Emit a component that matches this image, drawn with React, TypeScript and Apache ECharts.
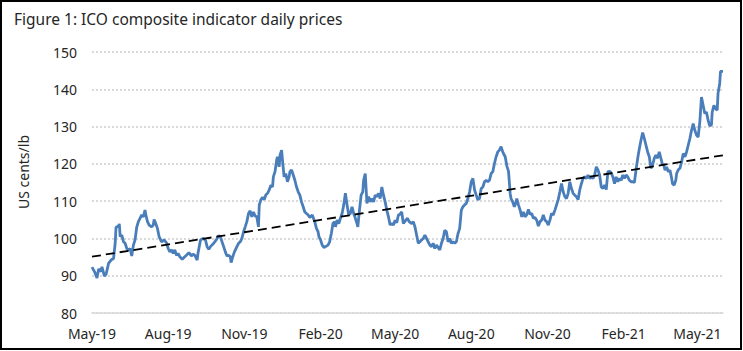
import React, { useEffect, useRef } from "react";
import * as echarts from "echarts";

// Day offsets from 1 May 2019 and ICO composite indicator price (US cents/lb)
const days = [
  0, 3, 6, 8, 11, 12, 15, 17, 20, 23, 26, 28, 29, 32, 33, 34, 36, 38, 40, 42, 44, 46, 48, 50, 52, 54, 56, 58, 60, 62,
  64, 65, 67, 69, 72, 74, 75, 77, 79, 81, 84, 87, 90, 92, 94, 96, 98, 100, 102, 104, 106, 109, 112, 114, 117, 120, 122, 124, 127, 128,
  131, 134, 137, 139, 141, 143, 147, 150, 153, 155, 157, 159, 161, 163, 165, 167, 168, 170, 172, 175, 177, 179, 181, 183, 185, 187, 189, 191, 193, 195,
  197, 199, 201, 202, 204, 206, 208, 210, 212, 214, 216, 218, 219, 221, 223, 224, 226, 227, 229, 230, 232, 234, 236, 238, 239, 241, 243, 245, 247, 249,
  251, 253, 255, 257, 261, 263, 266, 269, 271, 273, 274, 276, 278, 280, 282, 285, 287, 289, 291, 293, 294, 296, 298, 300, 302, 304, 306, 308, 310, 312,
  314, 316, 318, 320, 321, 323, 325, 327, 328, 330, 331, 332, 334, 336, 338, 340, 342, 344, 346, 348, 350, 352, 354, 356, 358, 360, 362, 364, 366, 368,
  370, 372, 374, 376, 379, 381, 383, 386, 388, 390, 392, 394, 396, 398, 400, 402, 404, 406, 408, 410, 412, 414, 416, 418, 420, 422, 424, 426, 428, 430,
  432, 434, 436, 438, 440, 442, 444, 446, 448, 450, 452, 454, 456, 458, 460, 462, 464, 466, 468, 470, 472, 474, 476, 478, 480, 482, 484, 486, 488, 490,
  492, 494, 496, 498, 499, 501, 503, 505, 506, 508, 510, 511, 513, 515, 517, 519, 521, 523, 525, 527, 529, 531, 533, 535, 537, 539, 541, 543, 545, 547,
  549, 551, 553, 555, 557, 559, 561, 563, 565, 567, 569, 571, 573, 575, 577, 579, 581, 583, 585, 587, 589, 591, 593, 595, 597, 599, 601, 603, 605, 607,
  609, 611, 613, 615, 617, 619, 621, 623, 625, 627, 629, 631, 633, 635, 637, 639, 641, 643, 645, 647, 649, 651, 653, 655, 657, 659, 661, 663, 665, 667,
  669, 671, 673, 675, 677, 679, 681, 683, 685, 687, 689, 690, 692, 694, 696, 698, 700, 701, 703, 705, 706, 708, 710, 712, 714, 716, 718, 720, 722, 724,
  726, 728, 730, 732, 734, 736, 738, 740, 742, 744, 746, 748, 749, 751, 753, 755, 756, 758, 759, 762,
];

const prices = [
  92.3, 91.1, 89.4, 91.8, 91.1, 92.4, 89.9, 90.4, 93.3, 94.2, 94.6, 98.7, 103, 103.3, 103.9, 100.5, 100.9, 99.1, 98.7, 97.3, 96.9, 97.3, 95.3, 98.2, 99.6, 103, 104.5, 105.4, 106.3, 105.8,
  107.6, 106.3, 104.5, 103.6, 103.1, 103.6, 105.1, 104, 102.7, 100.5, 99.1, 99.6, 98.8, 97.3, 96.4, 96.9, 96, 96.9, 95.5, 96, 95.1, 94.4, 95.1, 95.5, 96.2, 95.3, 95.8, 95.5, 94.2, 96,
  99.6, 100, 99.6, 97.8, 97.1, 97.8, 98.7, 99.6, 100.7, 100.5, 99.1, 97.8, 96.4, 95.3, 95.5, 95.1, 93.5, 95.1, 96.4, 97.8, 98.7, 99.1, 100, 101.8, 103.1, 104.5, 106.7, 107.4, 105.8, 107.1,
  106, 105.8, 103.1, 109, 110.4, 111, 110.4, 111.7, 112.1, 113, 114.3, 113.8, 116.5, 117.9, 121, 121.9, 119.2, 122.3, 123.7, 121, 116.5, 117.4, 115.2, 116.5, 117.9, 118.4, 117, 115.6, 113.8, 112.5,
  111.6, 109.8, 108.5, 107.1, 106.3, 105.6, 106.3, 104.5, 102.7, 101.8, 100.5, 99.6, 98.2, 97.6, 97.8, 98.2, 99.1, 101.3, 104, 104.5, 103.1, 104.9, 104, 105.4, 106.7, 109, 112.1, 109, 106.3, 106.7,
  108.5, 106.7, 105.4, 104, 103.1, 107.6, 111.6, 112.5, 115.6, 117.4, 113.4, 109.4, 111.2, 109.8, 110.7, 109.8, 111.6, 111.2, 112.1, 110.7, 113.8, 111.6, 109.8, 107.6, 105.8, 103.6, 104, 103.6, 104.9, 104.2,
  106.3, 106.5, 107.1, 104, 104.9, 105.4, 104.5, 104, 104.5, 103.1, 100.9, 98.7, 99.1, 99.6, 100, 100.9, 100, 99.1, 98.2, 97.8, 98.7, 97.3, 98.2, 97.6, 96.9, 98.7, 100, 102.2, 101.8, 99.1,
  100, 98.7, 99.1, 98.7, 99.1, 101.3, 102.7, 107.6, 108.5, 109, 109.4, 110.7, 112.5, 115.2, 116.1, 113, 111.6, 110.4, 110.7, 113.4, 113.8, 115.2, 115.6, 115.2, 115.6, 117.4, 117.9, 120.1, 121.9, 123.2,
  123.7, 124.6, 123.2, 122.3, 121.9, 119.4, 118, 112, 110.7, 109.8, 108.5, 109, 110.7, 109, 107.6, 105.8, 107.1, 105.8, 106.3, 107.8, 106.5, 106.7, 105.4, 105.6, 104.9, 103.3, 104.5, 104.9, 106.3, 104.9,
  104.5, 103.6, 104.9, 106.7, 106.3, 107.6, 109, 110.4, 112.5, 114.7, 112.5, 111.2, 110.7, 112.1, 115.2, 113.4, 112.1, 111.6, 111.2, 110.4, 113, 114.7, 116.1, 116.5, 116.1, 117, 116.1, 116.5, 116.1, 117,
  119.2, 118.4, 117, 113.8, 113.4, 114.3, 113.1, 117.9, 118, 117.6, 116.5, 114.7, 116.5, 115.2, 116.1, 115.6, 117, 116.1, 117, 116.5, 115.6, 115.2, 115.2, 115, 118.4, 121.5, 124.1, 126.4, 128.4, 126.8,
  125, 123.2, 121.9, 118.8, 119.7, 121.5, 122.3, 121.5, 123.2, 121.5, 119.7, 120.1, 118.3, 119.2, 117.9, 118.3, 116.1, 114.7, 114.3, 115.6, 117.4, 118.4, 118.8, 120.5, 122.8, 121.9, 123.2, 125, 126.8, 129,
  130.8, 129, 127.7, 127.2, 131.2, 137.9, 135.7, 133.5, 133.9, 131.7, 130.2, 130.4, 133.9, 135.7, 134.8, 134.4, 138.9, 141.5, 144.8, 144.8,
];

// Linear trend line end points
const trendDays = [0, 762];
const trendValues = [95.1, 122.3];

// X tick positions (day offsets) and their labels
const tickDays = [0, 92, 184, 276, 366, 458, 550, 642, 731];
const tickLabels = ["May-19", "Aug-19", "Nov-19", "Feb-20", "May-20", "Aug-20", "Nov-20", "Feb-21", "May-21"];

const title = "Figure 1: ICO composite indicator daily prices";
const yName = "US cents/lb";

const FONT = "'Noto Sans', sans-serif";

export default function App() {
  const ref = useRef<HTMLDivElement>(null);

  useEffect(() => {
    document.body.style.margin = "0";
    if (!ref.current) return;
    const chart = echarts.init(ref.current, undefined, { renderer: "svg" });
    const labelMap: Record<number, string> = {};
    tickDays.forEach((d, i) => (labelMap[d] = tickLabels[i]));

    chart.setOption({
      animation: false,
      backgroundColor: "#ffffff",
      grid: { left: 92, right: 20, top: 52, bottom: 38 },
      xAxis: {
        type: "value",
        min: 0,
        max: 762,
        axisLine: { show: true, lineStyle: { color: "#d9d9d9", width: 1.5 } },
        axisTick: { show: false },
        splitLine: { show: false },
        axisLabel: {
          customValues: tickDays,
          formatter: (v: number) => labelMap[v] ?? "",
          color: "#262626",
          fontFamily: FONT,
          fontSize: 14,
          margin: 13,
        },
      },
      yAxis: {
        type: "value",
        min: 80,
        max: 150,
        interval: 10,
        axisLine: { show: false },
        axisTick: { show: false },
        axisLabel: { color: "#262626", fontFamily: FONT, fontSize: 14, margin: 15 },
        splitLine: { show: true, lineStyle: { color: "#d9d9d9", width: 2, type: [2, 2] } },
      },
      series: [
        {
          type: "line",
          data: days.map((d, i) => [d, prices[i]]),
          showSymbol: false,
          symbol: "none",
          lineStyle: { color: "#4a7ebb", width: 2.8 },
          z: 2,
        },
        {
          type: "line",
          data: trendDays.map((d, i) => [d, trendValues[i]]),
          showSymbol: false,
          symbol: "none",
          lineStyle: { color: "#000000", width: 1.8, type: [9, 5] },
          z: 3,
        },
      ],
      graphic: [
        {
          type: "rect",
          shape: { x: 1, y: 1, width: 740, height: 348 },
          style: { fill: "none", stroke: "#000000", lineWidth: 2 },
          silent: true,
        },
        {
          type: "text",
          x: 14,
          y: 19,
          style: {
            text: title,
            fill: "#262626",
            font: `15.5px ${FONT}`,
            textAlign: "left",
            textVerticalAlign: "middle",
          },
        },
        {
          type: "text",
          x: 23,
          y: 172,
          rotation: Math.PI / 2,
          style: {
            text: yName,
            fill: "#262626",
            font: `14px ${FONT}`,
            textAlign: "center",
            textVerticalAlign: "middle",
          },
        },
      ],
    });
    return () => chart.dispose();
  }, []);

  return (
    <div
      ref={ref}
      style={{ width: 743, height: 351, position: "absolute", left: 0, top: 0 }}
    />
  );
}
